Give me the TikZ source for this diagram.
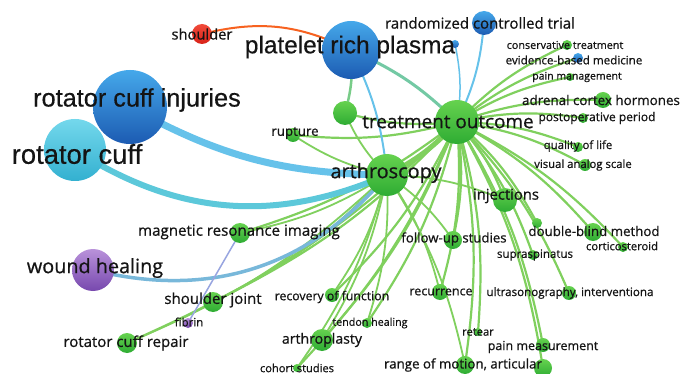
\documentclass[tikz,border=0pt]{standalone}
\usepackage{fontspec}
\newfontfamily\vosfont{Open Sans}[FakeBold=0.7]
\newfontfamily\vosbig{Liberation Sans}[FakeBold=0.4]
\usetikzlibrary{backgrounds}

\definecolor{vgreenL}{HTML}{66D24F}
\definecolor{vgreenD}{HTML}{2EAC33}
\definecolor{vblueL}{HTML}{45A8EA}
\definecolor{vblueD}{HTML}{1C5BB2}
\definecolor{vcyanL}{HTML}{74D8EC}
\definecolor{vcyanD}{HTML}{33B0D0}
\definecolor{vpurpL}{HTML}{B992DA}
\definecolor{vpurpD}{HTML}{7748AE}
\definecolor{vredL}{HTML}{F04A3A}
\definecolor{vredD}{HTML}{D92218}
\definecolor{vedge}{HTML}{80D05E}
\definecolor{vblueedge}{HTML}{66C2EA}
\definecolor{vcyanedge}{HTML}{5CC8DA}
\definecolor{vtext}{HTML}{141414}

\begin{document}
\begin{tikzpicture}[x=1pt, y=1pt,
    dot/.style={circle, inner sep=0pt, minimum size=#1},
    gdot/.style={dot=#1, top color=vgreenL, bottom color=vgreenD},
    bdot/.style={dot=#1, top color=vblueL, bottom color=vblueD},
    cdot/.style={dot=#1, top color=vcyanL, bottom color=vcyanD},
    pdot/.style={dot=#1, top color=vpurpL, bottom color=vpurpD},
    rdot/.style={dot=#1, top color=vredL, bottom color=vredD},
    lbl/.style={inner sep=0pt, text=vtext, font=\vosfont\fontsize{#1}{#1}\selectfont},
    biglbl/.style={inner sep=0pt, text=vtext, font=\vosbig\fontsize{#1}{#1}\selectfont},
    link/.style={draw=vedge, line width=#1, bend left=10},
    link/.default=2.2
]
\useasboundingbox (0,-374) rectangle (682,0);

% Cluster nodes
\node[bdot=58] (pp) at (351,-50) {};
\node[bdot=24] (rct) at (484,-23) {};
\node[bdot=8] (u4) at (455,-44) {};
\node[rdot=20] (sh) at (202,-34) {};
\node[bdot=74] (rci) at (130,-107) {};
\node[cdot=62] (rc) at (75,-150) {};
\node[pdot=42] (wh) at (93,-270) {};
\node[pdot=10] (fib) at (188,-323) {};
\node[bdot=10] (ebm) at (578,-58) {};

% Green cluster
\node[gdot=44] (to) at (457,-122) {};
\node[gdot=42] (ar) at (387,-175) {};
\node[gdot=24] (u1) at (345,-113) {};
\node[gdot=14] (rup) at (293,-135) {};
\node[gdot=10] (cons) at (567,-45) {};
\node[gdot=8] (pm) at (570,-77) {};
\node[gdot=16] (adr) at (603,-100) {};
\node[gdot=10] (post) at (583,-118) {};
\node[gdot=10] (qol) at (578,-147) {};
\node[gdot=12] (vas) at (585,-165) {};
\node[gdot=24] (inj) at (505,-200) {};
\node[gdot=10] (u2) at (537,-223) {};
\node[gdot=18] (dbm) at (593,-232) {};
\node[gdot=10] (cort) at (623,-247) {};
\node[gdot=18] (fu) at (453,-240) {};
\node[gdot=10] (sup) at (533,-255) {};
\node[gdot=16] (rec) at (440,-292) {};
\node[gdot=14] (us) at (569,-293) {};
\node[gdot=8] (ret) at (478,-332) {};
\node[gdot=14] (pmeas) at (543,-345) {};
\node[gdot=18] (rom) at (465,-365) {};
\node[gdot=18] (u3) at (543,-368) {};
\node[gdot=20] (mri) at (240,-233) {};
\node[gdot=20] (sj) at (213,-302) {};
\node[gdot=20] (rcr) at (127,-343) {};
\node[gdot=14] (recf) at (332,-295) {};
\node[gdot=10] (th) at (367,-323) {};
\node[gdot=22] (artp) at (322,-340) {};
\node[gdot=8] (coh) at (297,-368) {};

% Links
\begin{scope}[on background layer]
\fill[white] (0,-374) rectangle (682,0);
\foreach \n in {u1,rup,cons,ebm,pm,adr,post,qol,vas,inj,u2,dbm,cort,sup,us,fu,rec,ret,pmeas,rom,u3,artp,coh,th,recf,sj,rcr,mri}
    \draw[link] (to.center) to (\n.center);
\foreach \n in {mri,sj,rcr,recf,artp,coh,fu,rom,rec,inj,th,u1,rup}
    \draw[link=1.8] (ar.center) to (\n.center);
\draw[link=5] (to.center) to (ar.center);
\draw[link=3, draw=vedge!50!vblueedge] (pp.center) to (to.center);
\draw[link=2, draw=vblueedge] (pp.center) to (ar.center);
\draw[link=2, draw=vblueedge] (rct.center) to (to.center);
\draw[link=1.5, draw=vblueedge] (u4.center) to (to.center);
\draw[link=2.5, draw=vedge!70!vblueedge] (pp.center) to (u1.center);
\draw[line width=2, draw=vredL!55!orange, bend right=20] (pp.center) to (sh.center);
\draw[link=7, draw=vblueedge, bend left=14] (ar.center) to (rci.center);
\draw[link=6, draw=vcyanedge, bend left=28] (ar.center) to (rc.center);
\draw[link=3.5, draw=vcyanedge!70!vpurpL, bend left=32] (ar.center) to (wh.center);
\draw[line width=1.5, draw=vpurpL!60!vblueedge] (fib.center) to (mri.center);
\end{scope}

% Labels
\node[biglbl=24.4] (pp-l) at (350,-47) {platelet rich plasma};
\node[biglbl=25.3] (rci-l) at (137,-100) {rotator cuff injuries};
\node[biglbl=27.4] (rc-l) at (77,-154) {rotator cuff};
\node[lbl=15] (rct-l) at (480,-23) {randomized controlled trial};
\node[lbl=14.7] (sh-l) at (202,-34) {shoulder};
\node[lbl=13.3] (rup-l) at (295,-133) {rupture};
\node[lbl=18.9] (to-l) at (448,-122) {treatment outcome};
\node[lbl=19.9] (ar-l) at (386,-173) {arthroscopy};
\node[lbl=10.8] (cons-l) at (565,-45) {conservative treatment};
\node[lbl=11.6] (ebm-l) at (574,-60) {evidence-based medicine};
\node[lbl=10.5] (pm-l) at (577,-77) {pain management};
\node[lbl=13.4] (adr-l) at (601,-100) {adrenal cortex hormones};
\node[lbl=12] (post-l) at (597,-118) {postoperative period};
\node[lbl=11.4] (qol-l) at (578,-146) {quality of life};
\node[lbl=11.3] (vas-l) at (583,-165) {visual analog scale};
\node[lbl=14.8] (inj-l) at (506,-196) {injections};
\node[lbl=13.3] (dbm-l) at (594,-231) {double-blind method};
\node[lbl=11.2] (cort-l) at (622,-246) {corticosteroid};
\node[lbl=13.2] (fu-l) at (454,-239) {follow-up studies};
\node[lbl=11.5] (sup-l) at (535,-255) {supraspinatus};
\node[lbl=12.5] (rec-l) at (441,-292) {recurrence};
\node[lbl=11.6] (us-l) at (570,-293) {ultrasonography, interventiona};
\node[lbl=11.2] (ret-l) at (478,-332) {retear};
\node[lbl=12.5] (pmeas-l) at (543,-347) {pain measurement};
\node[lbl=13.3] (rom-l) at (463,-365) {range of motion, articular};
\node[lbl=15.1] (mri-l) at (239,-232) {magnetic resonance imaging};
\node[lbl=19.8] (wh-l) at (95,-268) {wound healing};
\node[lbl=15] (sj-l) at (213,-300) {shoulder joint};
\node[lbl=11.5] (fib-l) at (189,-322) {fibrin};
\node[lbl=15] (rcr-l) at (126,-343) {rotator cuff repair};
\node[lbl=12.3] (recf-l) at (332,-297) {recovery of function};
\node[lbl=10.7] (th-l) at (370,-323) {tendon healing};
\node[lbl=14.1] (artp-l) at (322,-340) {arthroplasty};
\node[lbl=11.1] (coh-l) at (297,-368) {cohort studies};

\end{tikzpicture}
\end{document}
